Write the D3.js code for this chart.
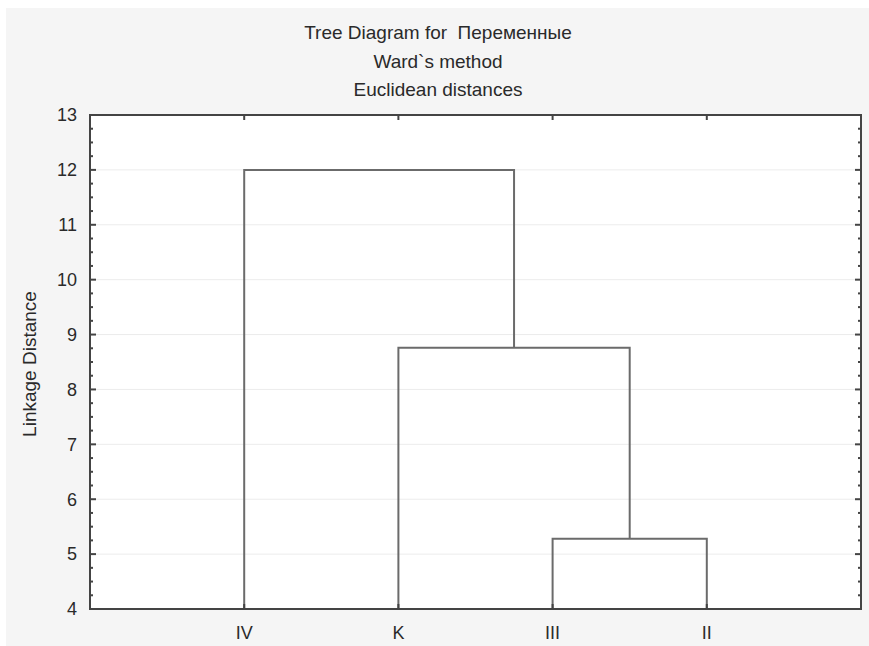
<!DOCTYPE html>
<html lang="en">
<head>
<meta charset="UTF-8">
<title>Tree Diagram</title>
<script src="https://d3js.org/d3.v7.min.js"></script>
<style>
    body { margin: 0; background: #fff; }
    .title { font-family: "Liberation Sans", Arial, sans-serif; font-size: 19px; fill: #2a2a2a; text-anchor: middle; white-space: pre; }
    .tick-label { font-family: "Liberation Sans", Arial, sans-serif; font-size: 18px; fill: #2a2a2a; }
</style>
</head>
<body>
<script>
// leaves, left to right
const leaves = ["IV", "K", "III", "II"];
// joins: [left member, right member, linkage distance]
const joins = [
    ["III", "II", 5.28],
    ["K", "III+II", 8.76],
    ["IV", "K+III+II", 12.0]
];
const yTicks = [4, 5, 6, 7, 8, 9, 10, 11, 12, 13];
const titles = ["Tree Diagram for  Переменные", "Ward`s method", "Euclidean distances"];

const W = 869, H = 646;
const m = { left: 90, right: 861, top: 115, bottom: 609 };

const svg = d3.select("body").append("svg")
    .attr("width", W)
    .attr("height", H);

svg.append("rect")
    .attr("x", 6).attr("y", 8)
    .attr("width", W - 6).attr("height", H - 8)
    .attr("fill", "#f5f5f5");

svg.append("rect")
    .attr("x", m.left).attr("y", m.top)
    .attr("width", m.right - m.left).attr("height", m.bottom - m.top)
    .attr("fill", "#fff");

const x = d3.scaleLinear().domain([0, leaves.length + 1]).range([m.left, m.right]);
const y = d3.scaleLinear().domain([4, 13]).range([m.bottom, m.top]);

// grid
svg.append("g").selectAll("line")
    .data(yTicks.slice(1, -1))
    .enter().append("line")
    .attr("x1", m.left).attr("x2", m.right)
    .attr("y1", d => y(d)).attr("y2", d => y(d))
    .attr("stroke", "#ececec")
    .attr("stroke-width", 1);

// dendrogram
const nodes = {};
leaves.forEach((l, i) => { nodes[l] = { x: x(i + 1), h: 4 }; });
const links = svg.append("g")
    .attr("fill", "none")
    .attr("stroke", "#6b6b6b")
    .attr("stroke-width", 2);
joins.forEach(([a, b, h]) => {
    const na = nodes[a], nb = nodes[b];
    links.append("path")
        .attr("d", `M${na.x},${y(na.h)}V${y(h)}H${nb.x}V${y(nb.h)}`);
    nodes[a + "+" + b] = { x: (na.x + nb.x) / 2, h: h };
});

// frame
svg.append("rect")
    .attr("x", m.left).attr("y", m.top)
    .attr("width", m.right - m.left).attr("height", m.bottom - m.top)
    .attr("fill", "none")
    .attr("stroke", "#444")
    .attr("stroke-width", 2);

// y ticks: major + minor, inside, both sides
const minor = d3.range(4, 13.001, 0.25).filter(v => Math.abs(v - Math.round(v)) > 0.01);
const tickG = svg.append("g").attr("stroke", "#444").attr("stroke-width", 2);
[[m.left, 1], [m.right, -1]].forEach(([x0, dir]) => {
    tickG.selectAll(null).data(yTicks).enter().append("line")
        .attr("x1", x0).attr("x2", x0 + dir * 6)
        .attr("y1", d => y(d)).attr("y2", d => y(d));
    tickG.selectAll(null).data(minor).enter().append("line")
        .attr("x1", x0).attr("x2", x0 + dir * 3)
        .attr("y1", d => y(d)).attr("y2", d => y(d));
});
// x ticks top/bottom
[[m.top, 1], [m.bottom, -1]].forEach(([y0, dir]) => {
    tickG.selectAll(null).data(leaves).enter().append("line")
        .attr("x1", (d, i) => x(i + 1)).attr("x2", (d, i) => x(i + 1))
        .attr("y1", y0).attr("y2", y0 + dir * 5);
});

// labels
svg.append("g").selectAll("text")
    .data(yTicks)
    .enter().append("text")
    .attr("class", "tick-label")
    .attr("x", 77)
    .attr("y", d => y(d))
    .attr("dy", "0.35em")
    .attr("text-anchor", "end")
    .text(d => d);

svg.append("g").selectAll("text")
    .data(leaves)
    .enter().append("text")
    .attr("class", "tick-label")
    .attr("x", (d, i) => x(i + 1))
    .attr("y", 639)
    .attr("text-anchor", "middle")
    .text(d => d);

svg.append("text")
    .attr("class", "title")
    .attr("transform", `translate(36,${(m.top + m.bottom) / 2 + 2}) rotate(-90)`)
    .text("Linkage Distance");

svg.append("g").selectAll("text")
    .data(titles)
    .enter().append("text")
    .attr("class", "title")
    .attr("x", 438)
    .attr("y", (d, i) => 39 + i * 28.5)
    .text(d => d);
</script>
</body>
</html>
